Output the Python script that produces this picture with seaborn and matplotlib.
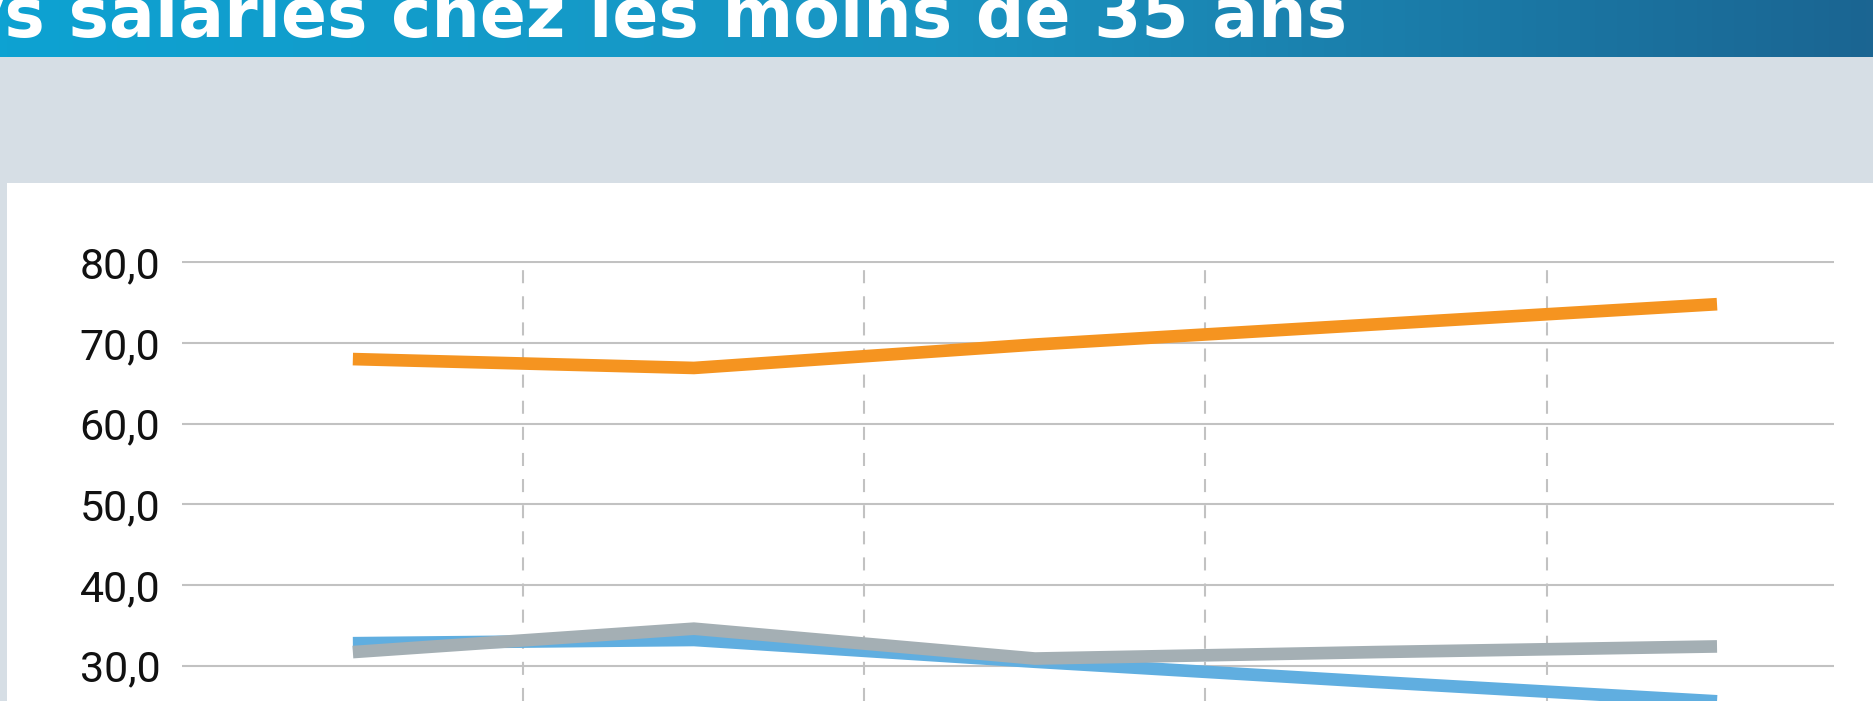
import numpy as np
import pandas as pd
import seaborn as sns
import matplotlib.pyplot as plt
from matplotlib.patches import Rectangle
from matplotlib.colors import LinearSegmentedColormap

# data (x labels are cut off in the reference)
periodes = ["p1", "p2", "p3", "p4", "p5"]
serie_orange = [68.0, 66.9, 69.8, 72.3, 74.8]
serie_bleue = [32.8, 33.2, 30.5, 28.0, 25.6]
serie_grise = [31.7, 34.6, 30.9, 31.7, 32.4]
y_ticks = [30, 40, 50, 60, 70, 80]
titre = "ys salariés chez les moins de 35 ans"

W, H = 1873, 701

df = pd.DataFrame({
    "periode": periodes * 3,
    "valeur": serie_bleue + serie_grise + serie_orange,
    "serie": ["bleu"] * 5 + ["gris"] * 5 + ["orange"] * 5,
})

sns.set_theme(style="white")
plt.rcParams["lines.scale_dashes"] = False

fig = plt.figure(figsize=(W / 100, H / 100), dpi=100)
fig.patch.set_facecolor("#D6DEE5")

# white panel behind the chart
fig.add_artist(Rectangle((7 / W, 0), 1, (H - 183) / H, transform=fig.transFigure,
                         facecolor="white", edgecolor="none", zorder=0))

# title band with gradient
band = fig.add_axes([0, 1 - 57 / H, 1, 57 / H])
cmap = LinearSegmentedColormap.from_list("bandeau", ["#0DA2D2", "#1A95C2", "#1B6592"])
band.imshow(np.linspace(0, 1, 256)[None, :], aspect="auto", cmap=cmap, extent=[0, 1, 0, 1])
band.set_axis_off()
fig.text(-40 / W, 1 - 37 / H, titre, color="white", fontsize=49, fontweight="bold",
         family="DejaVu Sans", ha="left", va="baseline")

ax = fig.add_axes([182 / W, 0, (1834 - 182) / W, (H - 261) / H])
ax.set_facecolor("none")

sns.lineplot(data=df, x="periode", y="valeur", hue="serie",
             palette={"bleu": "#60AEE0", "gris": "#A4AFB4", "orange": "#F59420"},
             hue_order=["bleu", "gris", "orange"], linewidth=9.1,
             solid_capstyle="butt", solid_joinstyle="miter", legend=False, ax=ax, zorder=3)

ax.set_xlim(-0.501, 4.343)
ax.set_ylim(25.64, 80.15)
ax.set_xticks([0.5, 1.5, 2.5, 3.5])
ax.set_xticklabels([])
ax.set_yticks(y_ticks)
ax.set_yticklabels([f"{v:.1f}".replace(".", ",") for v in y_ticks])
ax.set_xlabel("")
ax.set_ylabel("")

ax.grid(axis="y", color="#C2C2C2", linewidth=1.5, linestyle="-")
ax.grid(axis="x", color="#C2C2C2", linewidth=1.5, linestyle=(0, (9.4, 9.4)))
ax.set_axisbelow(True)
for s in ax.spines.values():
    s.set_visible(False)
ax.tick_params(axis="both", length=0)
ax.tick_params(axis="y", pad=15.5, labelsize=31, labelcolor="#111111")
for lab in ax.get_yticklabels():
    lab.set_family(["Roboto", "DejaVu Sans"])

fig.savefig("out.png", dpi=100)
